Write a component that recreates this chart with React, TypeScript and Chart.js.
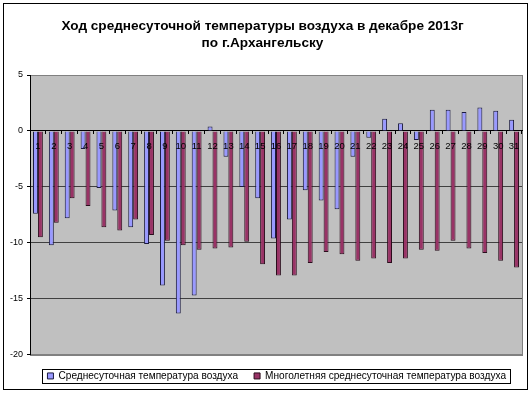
import React, { useEffect, useRef } from "react";
import { Chart, registerables } from "chart.js";

Chart.register(...registerables);

const titleLines = [
  "Ход среднесуточной температуры воздуха в декабре 2013г",
  "по г.Архангельску",
];

const days = [
  "1", "2", "3", "4", "5", "6", "7", "8", "9", "10",
  "11", "12", "13", "14", "15", "16", "17", "18", "19", "20",
  "21", "22", "23", "24", "25", "26", "27", "28", "29", "30", "31",
];

const dailyMeanLabel = "Среднесуточная температура воздуха";
const dailyMean = [
  -7.4, -10.2, -7.8, -1.6, -5.1, -7.1, -8.6, -10.1, -13.8, -16.3,
  -14.7, 0.4, -2.3, -5.0, -6.0, -9.6, -7.9, -5.3, -6.2, -7.0,
  -2.3, -0.6, 1.1, 0.7, -0.8, 1.9, 1.9, 1.7, 2.1, 1.8, 1.0,
];

const longTermLabel = "Многолетняя среднесуточная температура воздуха";
const longTermMean = [
  -9.5, -8.2, -6.0, -6.7, -8.6, -8.9, -7.9, -9.3, -9.8, -10.2,
  -10.6, -10.5, -10.4, -9.9, -11.9, -12.9, -12.9, -11.8, -10.8, -11.0,
  -11.6, -11.4, -11.8, -11.4, -10.6, -10.7, -9.8, -10.5, -10.9, -11.6, -12.2,
];

const yMin = -20;
const yMax = 5;
const yStep = 5;

const FONT = "'Liberation Sans', Arial, sans-serif";

export default function App() {
  const ref = useRef<HTMLCanvasElement>(null);

  useEffect(() => {
    document.body.style.margin = "0";
    const canvas = ref.current;
    if (!canvas) return;

    const framePlugin = {
      id: "framePlugin",
      beforeDraw(chart: any) {
        const { ctx, chartArea } = chart;
        ctx.save();
        ctx.beginPath();
        ctx.fillStyle = "#ffffff";
        ctx.fillRect(0, 0, chart.width, chart.height);
        ctx.fillStyle = "#c0c0c0";
        ctx.fillRect(
          chartArea.left,
          chartArea.top,
          chartArea.right - chartArea.left,
          chartArea.bottom - chartArea.top
        );
        ctx.strokeStyle = "#808080";
        ctx.lineWidth = 1;
        ctx.strokeRect(
          Math.round(chartArea.left) + 0.5,
          Math.round(chartArea.top) + 0.5,
          Math.round(chartArea.right - chartArea.left),
          Math.round(chartArea.bottom - chartArea.top)
        );
        ctx.beginPath();
        ctx.restore();
      },
      afterDraw(chart: any) {
        const { ctx } = chart;
        ctx.save();
        ctx.beginPath();
        ctx.strokeStyle = "#000000";
        ctx.lineWidth = 1;
        ctx.strokeRect(3.5, 3.5, chart.width - 8, chart.height - 7);
        const hb = chart.legend?.legendHitBoxes || [];
        if (hb.length) {
          let l = Infinity, r = -Infinity, t = Infinity, b = -Infinity;
          hb.forEach((h: any) => {
            l = Math.min(l, h.left);
            r = Math.max(r, h.left + h.width);
            t = Math.min(t, h.top);
            b = Math.max(b, h.top + h.height);
          });
          ctx.strokeStyle = "#000000";
          ctx.strokeRect(
            Math.round(l - 5) + 0.5,
            Math.round(t - 2) + 0.5,
            Math.round(r - l + 9),
            Math.round(b - t + 4)
          );
        }
        ctx.restore();
      },
    };

    const chart = new Chart(canvas, {
      type: "bar",
      data: {
        labels: days,
        datasets: [
          {
            label: dailyMeanLabel,
            data: dailyMean,
            backgroundColor: "#9999ff",
            borderColor: "#1a1a40",
            borderWidth: 1,
            categoryPercentage: 0.62,
            barPercentage: 1,
          },
          {
            label: longTermLabel,
            data: longTermMean,
            backgroundColor: "#993366",
            borderColor: "#2a0d1c",
            borderWidth: 1,
            categoryPercentage: 0.62,
            barPercentage: 1,
          },
        ],
      },
      options: {
        responsive: false,
        animation: false,
        devicePixelRatio: 1,
        layout: { padding: { left: 3, right: 10, top: 0, bottom: 2 } },
        plugins: {
          title: {
            display: true,
            text: titleLines,
            color: "#000000",
            font: { family: FONT, size: 13.6, weight: "bold", lineHeight: 1.25 },
            padding: { top: 18, bottom: 23 },
          },
          legend: {
            position: "bottom",
            align: "end",
            labels: {
              boxWidth: 6,
              boxHeight: 6,
              padding: 16,
              color: "#000000",
              font: { family: FONT, size: 10.1 },
            },
          },
          tooltip: { enabled: false },
        },
        scales: {
          x: {
            position: { y: 0 } as any,
            grid: {
              drawOnChartArea: false,
              drawTicks: true,
              tickLength: 3,
              color: "#000000",
              offset: true,
            },
            border: { color: "#000000", width: 1 },
            ticks: {
              color: "#000000",
              font: { family: FONT, size: 9.5 },
              padding: 7,
              maxRotation: 0,
              autoSkip: false,
              z: 1,
            },
          },
          y: {
            min: yMin,
            max: yMax,
            ticks: {
              stepSize: yStep,
              color: "#000000",
              font: { family: FONT, size: 9 },
              padding: 4,
            },
            grid: {
              color: (c: any) =>
                c.tick && c.tick.value === yMax
                  ? "#808080"
                  : c.tick && c.tick.value === yMin
                  ? "#808080"
                  : "#404040",
              tickColor: "#000000",
              tickLength: 3,
              drawTicks: true,
            },
            border: { color: "#000000", width: 1 },
            afterFit: (s: any) => {
              s.width = 27;
            },
          },
        },
      },
      plugins: [framePlugin],
    });

    return () => chart.destroy();
  }, []);

  return (
    <div style={{ position: "absolute", left: 0, top: 0, width: 532, height: 393 }}>
      <canvas ref={ref} width={532} height={393} style={{ display: "block", width: 532, height: 393 }} />
    </div>
  );
}
